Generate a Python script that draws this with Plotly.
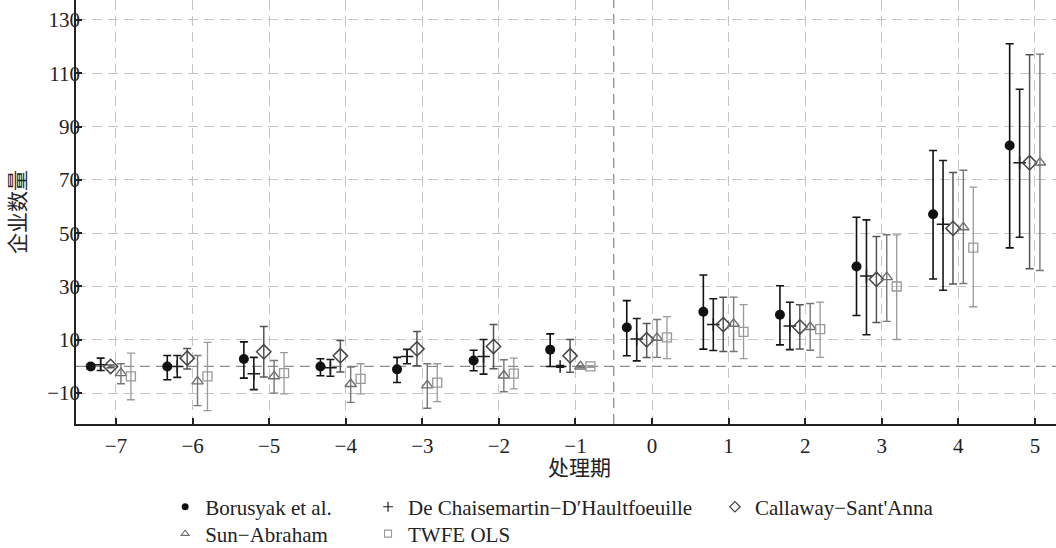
import plotly.graph_objects as go

periods = [-7, -6, -5, -4, -3, -2, -1, 0, 1, 2, 3, 4, 5]
tick_y = [-10, 10, 30, 50, 70, 90, 110, 130]

bor_est = [0, 0, 2.8, 0, -1.1, 2.2, 6.3, 14.6, 20.5, 19.4, 37.5, 57.1, 82.9]
bor_lo = [-1, -5, -4.4, -3.5, -6, -1.6, 0, 4, 6.5, 8.1, 19.1, 32.8, 44.5]
bor_hi = [1, 4.1, 9.2, 2.9, 3.4, 6.1, 12.2, 24.7, 34.3, 30.3, 56, 81, 121.1]

dc_est = [0.6, 0, -2.7, -0.5, 3.7, 3.7, 0, 10.3, 15.7, 15.2, 33.9, 53.4, 76.4]
dc_lo = [-1.5, -4.1, -8.7, -3.7, 1, -2.9, -0.3, 2.1, 6, 6.3, 11.9, 28.6, 48.5]
dc_hi = [3.1, 4.1, 3.4, 2.6, 6.4, 10.1, 0.3, 18, 25.4, 24.1, 55, 77.3, 104]

cs_est = [0, 3.1, 5.5, 4, 6.6, 7.5, 4, 10, 15.7, 14.8, 32.7, 51.8, 76.4]
cs_lo = [-0.5, -1, -4, -2.1, 0.3, -0.9, -2.2, 3.4, 5.6, 6.5, 16.5, 30.9, 36.7]
cs_hi = [0.5, 6.7, 15, 9.7, 13.1, 15.7, 10.1, 16.1, 26, 23.1, 48.8, 72.8, 117]

sa_est = [-2.5, -5.6, -3.7, -6.6, -7.1, -3.4, 0, 10.7, 16, 14.8, 33.5, 52.2, 76.5]
sa_lo = [-6.5, -14.7, -10, -13.5, -15.7, -9.5, -0.3, 3.4, 5.6, 6.1, 16.9, 31.1, 36]
sa_hi = [1, 4.1, 2.2, -0.2, 1, 2.5, 0.3, 17.6, 26, 23.6, 49.4, 73.6, 117.2]

twfe_est = [-3.7, -3.7, -2.5, -4.7, -6.1, -2.7, 0, 10.9, 13, 14, 30, 44.6, None]
twfe_lo = [-12.5, -16.6, -10.3, -10.3, -13.2, -8.4, -0.3, 2.9, 2.9, 3.4, 10.1, 22.4, None]
twfe_hi = [5, 9, 5.2, 1, 1, 3.1, 0.3, 18.7, 23.2, 24.1, 49.4, 67.3, None]

series = [
    ("Borusyak et al.", bor_est, bor_lo, bor_hi, -0.33,
     dict(symbol="circle", size=10, color="#111111", line=dict(width=0)),
     dict(symbol="circle", size=7, color="#111111", line=dict(width=0)), "#111111", 1.6, "legend"),
    ("De Chaisemartin\u2212D\u2032Haultfoeuille", dc_est, dc_lo, dc_hi, -0.2,
     dict(symbol="cross-thin", size=9, color="#1a1a1a", line=dict(width=1.5, color="#1a1a1a")),
     dict(symbol="cross-thin", size=7, color="#1a1a1a", line=dict(width=1.2, color="#1a1a1a")), "#1a1a1a", 1.6, "legend2"),
    ("Callaway\u2212Sant'Anna", cs_est, cs_lo, cs_hi, -0.07,
     dict(symbol="diamond-open", size=11, color="#444444", line=dict(width=1.5)),
     dict(symbol="diamond-open", size=8, color="#444444", line=dict(width=1.2)), "#555555", 1.5, "legend3"),
    ("Sun\u2212Abraham", sa_est, sa_lo, sa_hi, 0.065,
     dict(symbol="triangle-up-open", size=10, color="#6e6e6e", line=dict(width=1.4)),
     dict(symbol="triangle-up-open", size=7, color="#6e6e6e", line=dict(width=1.1)), "#777777", 1.4, "legend4"),
    ("TWFE OLS", twfe_est, twfe_lo, twfe_hi, 0.195,
     dict(symbol="square-open", size=9, color="#999999", line=dict(width=1.3)),
     dict(symbol="square-open", size=7, color="#999999", line=dict(width=1.1)), "#9a9a9a", 1.3, "legend5"),
]

fig = go.Figure()
for name, est, lo, hi, off, mk, lmk, ecol, ew, lg in series:
    xs, ys, up, dn = [], [], [], []
    for p, e, l, h in zip(periods, est, lo, hi):
        if e is None:
            continue
        xs.append(p + off)
        ys.append(e)
        up.append(h - e)
        dn.append(e - l)
    fig.add_trace(go.Scatter(
        x=xs, y=ys, mode="markers", name=name, marker=mk, showlegend=False,
        error_y=dict(type="data", symmetric=False, array=up, arrayminus=dn,
                     color=ecol, thickness=ew, width=4),
    ))
    # legend entry with the smaller legend symbol
    fig.add_trace(go.Scatter(
        x=[None], y=[None], mode="markers", name=name, marker=lmk,
        legend=lg, showlegend=True, hoverinfo="skip",
    ))

# reference lines at zero and at treatment start
fig.add_shape(type="line", xref="paper", x0=0, x1=1, yref="y", y0=0, y1=0,
              line=dict(color="#8c8c8c", width=1.3, dash="10px,6px"), layer="below")
fig.add_shape(type="line", xref="x", x0=-0.5, x1=-0.5, yref="paper", y0=0, y1=1,
              line=dict(color="#8c8c8c", width=1.3, dash="10px,6px"), layer="below")

font_family = "'Liberation Serif', 'Times New Roman', Times, 'Noto Sans CJK SC', serif"
legend_common = dict(orientation="v", yref="container", yanchor="top",
                     bgcolor="rgba(0,0,0,0)",
                     font=dict(size=21, color="#222222", family=font_family),
                     tracegroupgap=0, itemwidth=30, xanchor="left")
row1_y = 0.112
row2_y = 0.063

fig.add_annotation(text="处理期", xref="paper", yref="paper", x=0.514, y=-0.104,
                   xanchor="center", yanchor="middle", showarrow=False,
                   font=dict(size=21, color="#222222", family=font_family))

fig.update_layout(
    width=1056, height=548,
    margin=dict(l=76, r=0, t=0, b=124),
    paper_bgcolor="white", plot_bgcolor="white",
    font=dict(family=font_family, size=21, color="#222222"),
    showlegend=True,
    legend=dict(x=0.091, y=row1_y, **legend_common),
    legend2=dict(x=0.298, y=row1_y, **legend_common),
    legend3=dict(x=0.652, y=row1_y, **legend_common),
    legend4=dict(x=0.091, y=row2_y, **legend_common),
    legend5=dict(x=0.298, y=row2_y, **legend_common),
    xaxis=dict(
        range=[-7.522, 5.275], tickvals=periods,
        ticktext=[str(p) if p >= 0 else "\u2212" + str(-p) for p in periods],
        showgrid=True, gridcolor="#c4c4c4", gridwidth=1, griddash="10px,6px",
        showline=True, linecolor="#222222", linewidth=1.5,
        ticks="inside", ticklen=6, tickcolor="#222222", tickwidth=1.5,
        zeroline=False, automargin=False, ticklabelstandoff=2,
    ),
    yaxis=dict(
        range=[-21.6, 137.5], tickvals=tick_y,
        showgrid=True, gridcolor="#c4c4c4", gridwidth=1, griddash="10px,6px",
        showline=True, linecolor="#222222", linewidth=1.5,
        ticks="inside", ticklen=6, tickcolor="#222222", tickwidth=1.5,
        zeroline=False, automargin=False, ticklabelstandoff=-10,
        title=dict(text="企业数量", standoff=16, font=dict(size=21)),
    ),
)

fig.write_html("out.html", post_script="document.body.style.margin='0';",
               config={"displayModeBar": False})
